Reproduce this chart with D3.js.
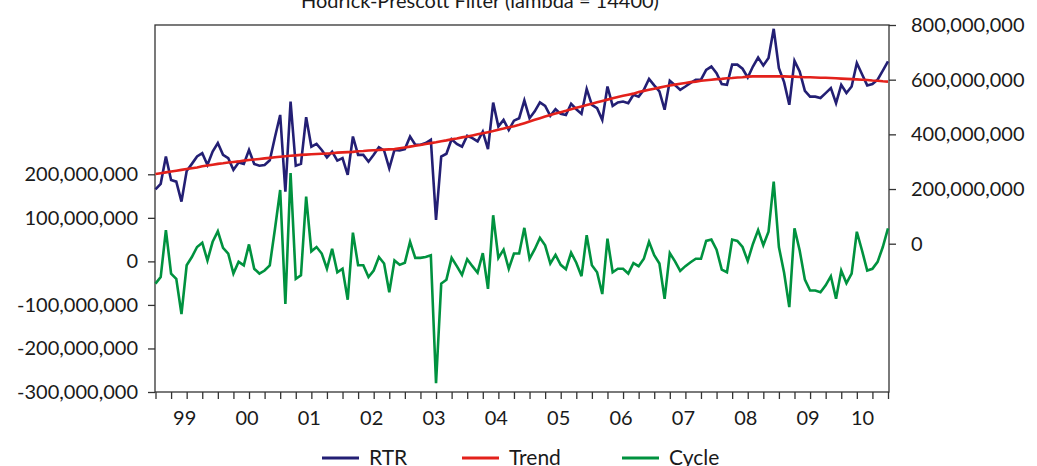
<!DOCTYPE html>
<html>
<head>
<meta charset="utf-8">
<script src="https://cdn.jsdelivr.net/npm/d3@7/dist/d3.min.js"></script>
<style>
body { margin: 0; background: #fff; }
text { font-family: Lato, "Open Sans", sans-serif; fill: #1a1a1a; }
</style>
</head>
<body>
<div id="chart"></div>
<script>
// Monthly data, 1999M01 - 2010M10, values in millions
var rtr = [199, 219, 319, 233, 227, 154, 266, 292, 319, 331, 288, 337,
  368, 325, 313, 270, 297, 292, 343, 292, 285, 288, 305, 390,
  471, 190, 520, 285, 292, 463, 355, 365, 343, 316, 337, 304,
  313, 252, 392, 325, 325, 300, 325, 353, 341, 276, 343, 341,
  346, 392, 362, 362, 368, 380, 87, 319, 329, 382, 365, 355,
  395, 386, 374, 410, 346, 516, 429, 453, 416, 450, 459, 524,
  459, 484, 517, 504, 468, 492, 475, 471, 512, 492, 475, 566,
  508, 496, 453, 575, 504, 517, 520, 514, 545, 538, 563, 603,
  579, 557, 490, 596, 580, 563, 575, 588, 600, 600, 636, 648,
  624, 584, 581, 655, 655, 640, 608, 648, 681, 652, 679, 786,
  642, 591, 508, 669, 630, 559, 538, 538, 533, 551, 569, 514,
  581, 551, 575, 661, 620, 579, 584, 600, 633, 667];

var trend = [255, 258, 261, 264, 267, 270, 273, 276, 279, 283, 286, 289,
  292, 294, 297, 299, 301, 304, 306, 308, 310, 312, 314, 316,
  318, 320, 322, 323, 325, 326, 327, 328, 329, 330, 331, 333,
  334, 335, 336, 338, 339, 341, 342, 343, 344, 345, 346, 349,
  352, 355, 358, 361, 365, 368, 371, 375, 378, 382, 385, 389,
  392, 396, 400, 404, 408, 412, 417, 421, 426, 430, 435, 441,
  447, 453, 459, 465, 471, 476, 481, 486, 492, 497, 502, 507,
  512, 517, 522, 527, 532, 537, 541, 545, 549, 555, 559, 563,
  567, 571, 575, 579, 582, 585, 588, 591, 593, 596, 598, 600,
  602, 603, 605, 606, 608, 609, 611, 612, 612, 612, 612, 612,
  612, 612, 611, 611, 610, 609, 609, 608, 607, 607, 606, 605,
  604, 603, 602, 601, 600, 599, 597, 596, 594, 593];

var cycle = [-51, -36, 72, -28, -40, -121, -9, 10, 33, 43, 2, 45,
  69, 31, 18, -28, -1, -9, 39, -17, -28, -21, -9, 75,
  164, -98, 203, -40, -32, 149, 23, 33, 18, -17, 29, -25,
  -17, -88, 66, -9, -9, -36, -21, 10, -5, -71, 2, -8,
  -3, 45, 8, 8, 10, 14, -280, -51, -42, 8, -11, -31,
  5, -11, -26, 19, -63, 106, 8, 27, -17, 18, 18, 77,
  6, 28, 54, 37, -5, 15, -8, -18, 20, -3, -34, 60,
  -9, -25, -75, 52, -25, -17, -17, -28, -4, -11, 6, 45,
  14, -5, -86, 19, 0, -22, -11, -2, 6, 6, 47, 50,
  27, -19, -25, 50, 47, 33, 1, 40, 72, 37, 68, 183,
  33, -26, -105, 76, 25, -42, -67, -67, -71, -55, -34, -86,
  -21, -50, -28, 68, 25, -21, -17, -1, 33, 76];

var leftTicks = [-300, -200, -100, 0, 100, 200];
var rightTicks = [0, 200, 400, 600, 800];
var yearLabels = ["99", "00", "01", "02", "03", "04", "05", "06", "07", "08", "09", "10"];
var seriesNames = ["RTR", "Trend", "Cycle"];
var seriesColors = ["#231f74", "#e3211b", "#00923f"];
var title = "Hodrick-Prescott Filter (lambda = 14400)";

var width = 1037, height = 466,
  plot = {left: 155, right: 889, top: 25, bottom: 392};

var fmt = d3.formatLocale({decimal: ".", thousands: ",", grouping: [3],
  currency: ["", ""], minus: "-"}).format(",");
var millions = function(d) { return fmt(d * 1e6); };

var svg = d3.select("#chart").append("svg")
  .attr("width", width)
  .attr("height", height);

var x = d3.scaleLinear()
  .domain([0, rtr.length - 1])
  .range([plot.left + 0.5, plot.right - 1]);

// left scale (cycle) and right scale (RTR, trend) share the plot box
var yLeft = d3.scaleLinear()
  .domain([-300, 200])
  .range([plot.bottom, 174.3]);

var yRight = d3.scaleLinear()
  .domain([0, 800])
  .range([243.7, plot.top]);

svg.append("text")
  .attr("x", 480)
  .attr("y", 8)
  .attr("text-anchor", "middle")
  .style("font-size", "20px")
  .text(title);

// axes
svg.append("g")
  .attr("transform", "translate(" + plot.left + ",0)")
  .call(d3.axisLeft(yLeft).tickValues(leftTicks).tickSize(7).tickPadding(10).tickFormat(millions))
  .call(function(g) { g.select(".domain").remove(); });

svg.append("g")
  .attr("transform", "translate(" + plot.right + ",0)")
  .call(d3.axisRight(yRight).tickValues(rightTicks).tickSize(7).tickPadding(15).tickFormat(millions))
  .call(function(g) { g.select(".domain").remove(); });

svg.append("g")
  .attr("transform", "translate(0," + plot.bottom + ")")
  .call(d3.axisBottom(x).tickValues(d3.range(0, rtr.length, 3)).tickSize(7).tickFormat(""))
  .call(function(g) { g.select(".domain").remove(); });

svg.selectAll(".tick line").attr("stroke", "#333").attr("stroke-width", 1.3);
svg.selectAll(".tick text").style("font-size", "20px").attr("fill", "#1a1a1a");

svg.selectAll("text.year")
    .data(yearLabels)
  .enter().append("text")
    .attr("class", "year")
    .attr("x", function(d, i) {
      var a = i * 12, b = Math.min(i * 12 + 12, rtr.length - 1);
      return x((a + b) / 2) - 2;
    })
    .attr("y", 425)
    .attr("text-anchor", "middle")
    .style("font-size", "20px")
    .text(function(d) { return d; });

svg.append("rect")
  .attr("x", plot.left)
  .attr("y", plot.top)
  .attr("width", plot.right - plot.left)
  .attr("height", plot.bottom - plot.top)
  .attr("fill", "none")
  .attr("stroke", "#333")
  .attr("stroke-width", 1.3);

// series
var lineRight = d3.line()
  .x(function(d, i) { return x(i); })
  .y(function(d) { return yRight(d); });

var lineLeft = d3.line()
  .x(function(d, i) { return x(i); })
  .y(function(d) { return yLeft(d); });

var series = [
  {data: rtr, line: lineRight},
  {data: trend, line: lineRight},
  {data: cycle, line: lineLeft}
];

svg.selectAll("path.series")
    .data(series)
  .enter().append("path")
    .attr("class", "series")
    .attr("fill", "none")
    .attr("stroke", function(d, i) { return seriesColors[i]; })
    .attr("stroke-width", 2.6)
    .attr("d", function(d) { return d.line(d.data); });

// legend, bottom edge cropped as in the source image
var legendX = [322, 462, 622];
var legend = svg.selectAll("g.legend")
    .data(seriesNames)
  .enter().append("g")
    .attr("class", "legend")
    .attr("transform", function(d, i) { return "translate(" + legendX[i] + ",458)"; });

legend.append("line")
  .attr("x1", 0).attr("x2", 37)
  .attr("stroke", function(d, i) { return seriesColors[i]; })
  .attr("stroke-width", 3);

legend.append("text")
  .attr("x", 47)
  .attr("y", 7)
  .style("font-size", "21px")
  .text(function(d) { return d; });
</script>
</body>
</html>
